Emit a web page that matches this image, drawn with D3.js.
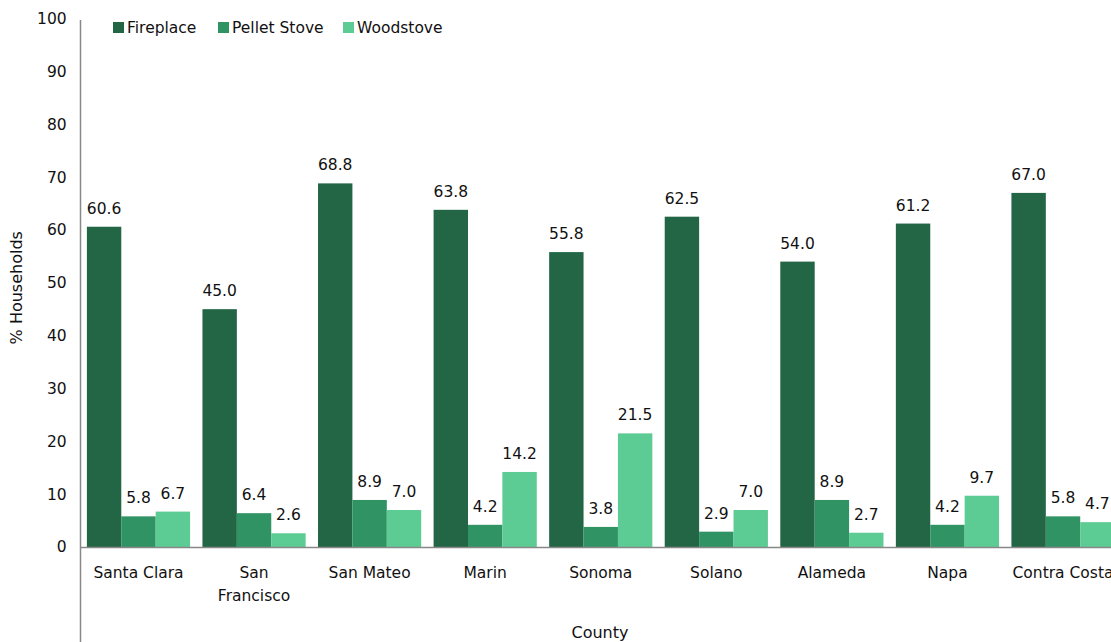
<!DOCTYPE html>
<html>
<head>
<meta charset="utf-8">
<script src="https://cdn.jsdelivr.net/npm/d3@7"></script>
<style>
  html, body { margin: 0; padding: 0; background: #fff; }
  svg { display: block; font-family: "DejaVu Sans", sans-serif; }
</style>
</head>
<body>
<svg id="chart" width="1111" height="642"></svg>
<script>
// Household heating appliances by county (% of households)
const counties = ["Santa Clara", "San Francisco", "San Mateo", "Marin", "Sonoma", "Solano", "Alameda", "Napa", "Contra Costa"];
const countyLines = [["Santa Clara"], ["San", "Francisco"], ["San Mateo"], ["Marin"], ["Sonoma"], ["Solano"], ["Alameda"], ["Napa"], ["Contra Costa"]];
const seriesNames = ["Fireplace", "Pellet Stove", "Woodstove"];
const fireplace = [60.6, 45.0, 68.8, 63.8, 55.8, 62.5, 54.0, 61.2, 67.0];
const pelletStove = [5.8, 6.4, 8.9, 4.2, 3.8, 2.9, 8.9, 4.2, 5.8];
const woodstove = [6.7, 2.6, 7.0, 14.2, 21.5, 7.0, 2.7, 9.7, 4.7];
const yTicks = [0, 10, 20, 30, 40, 50, 60, 70, 80, 90, 100];
const colors = ["#226645", "#2f9364", "#5ccb94"];

const seriesValues = [fireplace, pelletStove, woodstove];

const svg = d3.select("#chart");
const plotLeft = 80.7, plotRight = 1120.8, plotTop = 18.5, plotBottom = 547;

const x0 = d3.scaleBand().domain(counties).range([plotLeft, plotRight]).paddingInner(0).paddingOuter(0);
const x1 = d3.scaleBand().domain(seriesNames).range([0, x0.bandwidth()]).paddingOuter(0.18).paddingInner(0);
const y = d3.scaleLinear().domain([0, 100]).range([plotBottom, plotTop]);
const color = d3.scaleOrdinal().domain(seriesNames).range(colors);

// bars
const groups = svg.append("g").selectAll("g")
  .data(counties)
  .join("g")
  .attr("transform", d => `translate(${x0(d)},0)`);

const rows = (d, i) => seriesNames.map((s, k) => ({ county: d, series: s, value: seriesValues[k][i] }));

groups.selectAll("rect")
  .data(rows)
  .join("rect")
  .attr("x", d => x1(d.series))
  .attr("y", d => y(d.value))
  .attr("width", x1.bandwidth())
  .attr("height", d => y(0) - y(d.value))
  .attr("fill", d => color(d.series));

// value labels
groups.selectAll("text.val")
  .data(rows)
  .join("text")
  .attr("class", "val")
  .attr("x", d => x1(d.series) + x1.bandwidth() / 2)
  .attr("y", d => y(d.value) - 13)
  .attr("text-anchor", "middle")
  .attr("font-size", 15.5)
  .attr("fill", "#111")
  .text(d => d.value.toFixed(1));

// y axis
const yAxis = d3.axisLeft(y).tickValues(yTicks).tickSize(0).tickPadding(14);
const yg = svg.append("g").attr("transform", `translate(${plotLeft},0)`).call(yAxis);
yg.select(".domain").remove();
yg.selectAll("text").attr("font-size", 15.5).attr("fill", "#111").attr("font-family", "DejaVu Sans, sans-serif");
svg.append("line")
  .attr("x1", 80.5).attr("x2", 80.5).attr("y1", 20).attr("y2", 642)
  .attr("stroke", "#888").attr("stroke-width", 1.5);

// x axis
const xAxis = d3.axisBottom(x0).tickSize(0).tickFormat("");
const xg = svg.append("g").attr("transform", `translate(0,${plotBottom})`).call(xAxis);
xg.select(".domain").remove();
svg.append("line")
  .attr("x1", 80.5).attr("x2", 1111).attr("y1", plotBottom + 0.5).attr("y2", plotBottom + 0.5)
  .attr("stroke", "#888").attr("stroke-width", 1.5);

xg.selectAll(".tick").each(function(d, i) {
  const t = d3.select(this).append("text")
    .attr("text-anchor", "middle")
    .attr("font-size", 15.5)
    .attr("fill", "#111")
    .attr("font-family", "DejaVu Sans, sans-serif");
  countyLines[i].forEach((line, j) => {
    t.append("tspan").attr("x", 0).attr("y", 31 + j * 23).text(line);
  });
});

// axis titles
svg.append("text")
  .attr("transform", `translate(22,${(plotTop + plotBottom) / 2 + 5}) rotate(-90)`)
  .attr("text-anchor", "middle")
  .attr("font-size", 16)
  .attr("fill", "#111")
  .text("% Households");

svg.append("text")
  .attr("x", 600).attr("y", 638)
  .attr("text-anchor", "middle")
  .attr("font-size", 16)
  .attr("fill", "#111")
  .text("County");

// legend
const legendX = [113, 218, 343];
const legend = svg.append("g").selectAll("g")
  .data(seriesNames)
  .join("g")
  .attr("transform", (d, i) => `translate(${legendX[i]},22)`);
legend.append("rect").attr("width", 11).attr("height", 11).attr("fill", d => color(d));
legend.append("text").attr("x", 14).attr("y", 11).attr("font-size", 15.5).attr("fill", "#111").text(d => d);
</script>
</body>
</html>
